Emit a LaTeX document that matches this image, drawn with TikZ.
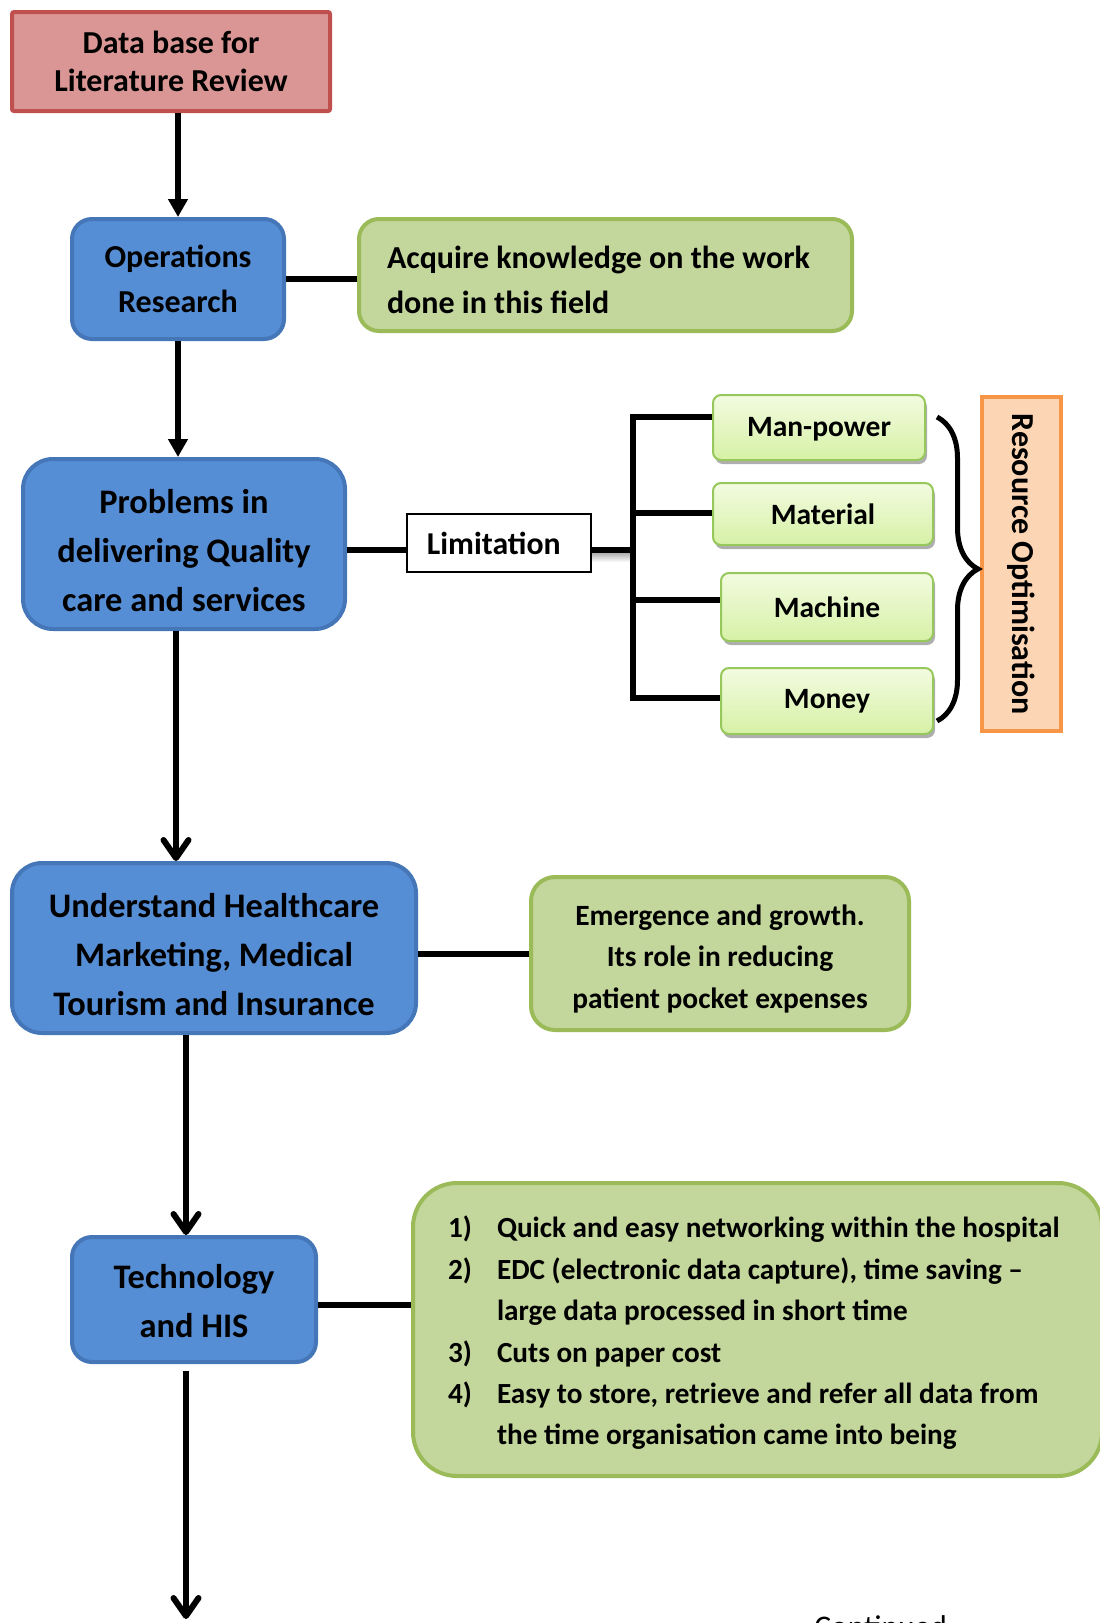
\documentclass[tikz,border=0pt]{standalone}
\usepackage{fontspec}
\setmainfont{Carlito}
\usetikzlibrary{arrows.meta,shadows,decorations.pathreplacing}

\definecolor{dbfill}{RGB}{217,150,148}
\definecolor{dbline}{RGB}{192,80,77}
\definecolor{bluefill}{RGB}{85,142,213}
\definecolor{blueline}{RGB}{68,118,184}
\definecolor{greenfill}{RGB}{195,214,155}
\definecolor{greenline}{RGB}{155,187,89}
\definecolor{limetop}{RGB}{243,251,224}
\definecolor{limebot}{RGB}{214,241,166}
\definecolor{limeline}{RGB}{150,200,92}
\definecolor{orangefill}{RGB}{252,213,181}
\definecolor{orangeline}{RGB}{247,150,70}

% extra room above a box of text, which lowers it inside a centred node
\newcommand\padtop[2]{\raisebox{0pt}[\dimexpr\height+#1\relax]{#2}}

\tikzset{
  every node/.style={inner sep=0pt},
  dbbox/.style={draw=dbline, fill=dbfill, line width=2pt, rounded corners=1pt,
    align=center, font=\bfseries\fontsize{16}{19}\selectfont},
  bluebox/.style={draw=blueline, fill=bluefill, line width=2pt},
  bigtext/.style={align=center, font=\bfseries\fontsize{17.2}{24.5}\selectfont},
  greenbox/.style={draw=greenline, fill=greenfill, line width=2pt},
  limebox/.style={draw=limeline, line width=1pt, rounded corners=4pt,
    top color=limetop, bottom color=limebot,
    drop shadow={shadow xshift=1pt, shadow yshift=-2pt, fill=black!45, opacity=0.7},
    minimum width=106pt, font=\bfseries\fontsize{14.75}{18}\selectfont},
  wire/.style={line width=3pt},
  fillarrow/.style={line width=3pt, -{Triangle[length=9pt,width=9.5pt]}},
  openarrow/.style={line width=3pt, -{Straight Barb[length=9pt,width=12.5pt,round]}},
}

\begin{document}
\begin{tikzpicture}[x=0.5pt,y=-0.5pt]
\useasboundingbox (0,0) rectangle (1099,1623);

% main column
\node[dbbox, minimum width=159pt, minimum height=49.5pt] (db) at (171,61.5)
  {Data base for\\Literature Review};
\node[bluebox, rounded corners=10pt, minimum width=106pt, minimum height=60pt,
  align=center, font=\bfseries\fontsize{16}{22.5}\selectfont] (or) at (178,279)
  {Operations\\Research};
\node[bluebox, rounded corners=15pt, minimum width=161pt, minimum height=85pt] (prob) at (184,544) {};
\node[bigtext] (probtext) at ([yshift=-3.1pt]prob.center)
  {Problems in\\delivering Quality\\care and services};
\node[bluebox, rounded corners=15pt, minimum width=202pt, minimum height=85pt] (und) at (214,948) {};
\node[bigtext] (undtext) at ([yshift=-3.1pt]und.center)
  {Understand Healthcare\\Marketing, Medical\\Tourism and Insurance};
\node[bluebox, rounded corners=10pt, minimum width=122pt, minimum height=62.5pt] (tech) at (194,1299.5) {};
\node[bigtext] (techtext) at ([yshift=-1pt]tech.center) {Technology\\and HIS};

% side notes
\node[greenbox, rounded corners=10pt, minimum height=56pt, inner xsep=14pt,
  font=\bfseries\fontsize{16}{22.5}\selectfont] (acq) at (605.5,275)
  {\padtop{7pt}{\makebox[218.5pt][l]{\begin{tabular}{@{}l@{}}Acquire knowledge on the work\\done in this field\end{tabular}}}};
\node[greenbox, rounded corners=12pt, minimum width=189pt, minimum height=76.5pt] (emg) at (720,953.5) {};
\node[align=center, font=\bfseries\fontsize{14.7}{20.7}\selectfont] (emgtext) at ([yshift=-2.6pt]emg.center)
  {Emergence and growth.\\Its role in reducing\\patient pocket expenses};
\node[greenbox, rounded corners=22pt, minimum height=146.5pt, inner xsep=17.5pt,
  font=\bfseries\fontsize{14.6}{20.7}\selectfont] (list) at (757.5,1329.5)
  {\padtop{3.6pt}{\makebox[309.5pt][l]{\begin{tabular}{@{}p{24.5pt}@{}l@{}}
    1) & Quick and easy networking within the hospital\\
    2) & EDC (electronic data capture), time saving --\\
       & large data processed in short time\\
    3) & Cuts on paper cost\\
    4) & Easy to store, retrieve and refer all data from\\
       & the time organisation came into being
  \end{tabular}}}};

% limitation branch
\node[draw, line width=1pt, fill=white, minimum width=92pt, minimum height=29pt,
  font=\bfseries\fontsize{15.9}{19}\selectfont] (lim) at (499,543) {Limitation\hspace*{5.2pt}};
\node[limebox, minimum height=32.5pt] (mp) at (819,427.5) {\padtop{2pt}{Man-power}};
\node[limebox, minimum width=110pt, minimum height=31pt] (mat) at (823,514) {Material};
\node[limebox, minimum height=34pt] (mach) at (827,607) {Machine};
\node[limebox, minimum height=33pt] (money) at (827,701) {Money};
\node[draw=orangeline, fill=orangefill, line width=2pt, minimum width=39.5pt,
  minimum height=167pt] (ro) at (1021.5,564) {};
\node[rotate=-90, font=\bfseries\fontsize{16}{19}\selectfont] (rotext) at (ro.center)
  {Resource Optimisation};

\coordinate (b1) at (633,417);
\coordinate (b2) at (633,513);
\coordinate (b3) at (633,600);
\coordinate (b4) at (633,698);

% soft shadow under the limitation link
\fill[top color=black!35, bottom color=white, draw=none]
  ([yshift=-4.5pt]lim.east) rectangle ([yshift=-9.5pt]lim.east -| b1);

\draw[wire] ([yshift=-3.5pt]lim.west -| prob.east) -- ([yshift=-3.5pt]lim.west);
\draw[wire] ([yshift=-3.5pt]lim.east) -- ([yshift=-3.5pt]lim.east -| b1);
\draw[wire, line cap=rect] (b1) -- (b4);
\draw[wire] (b1) -- (b1 -| mp.west);
\draw[wire] (b2) -- (b2 -| mat.west);
\draw[wire] (b3) -- (b3 -| mach.west);
\draw[wire] (b4) -- (b4 -| money.west);

% brace grouping the four resources
\coordinate (brtop) at (937,417);
\coordinate (brbot) at (937,721);
\draw[line width=2.5pt, decorate, decoration={brace, amplitude=20.5pt}] (brtop) -- (brbot);

% flow arrows
\draw[fillarrow] (or.north |- db.south) -- (or.north);
\draw[fillarrow] (or.south) -- (or.south |- prob.north);
\draw[openarrow] ([xshift=-4pt]prob.south) -- ([xshift=-4pt]prob.south |- und.north);
\draw[openarrow] ([xshift=-14pt]und.south) -- ([xshift=-14pt]und.south |- tech.north);
\coordinate (flowend) at (186,1619);
\draw[openarrow] ([xshift=-4pt,yshift=-3.5pt]tech.south) -- (flowend);

% side links
\draw[wire] (or.east) -- (or.east -| acq.west);
\draw[wire] (emg.west -| und.east) -- (emg.west);
\draw[wire] ([yshift=-2.75pt]tech.east) -- ([yshift=-2.75pt]tech.east -| list.west);

\node[anchor=base west, font=\fontsize{15.75}{19}\selectfont] (cont) at (814,1637) {Continued};
\end{tikzpicture}
\end{document}
